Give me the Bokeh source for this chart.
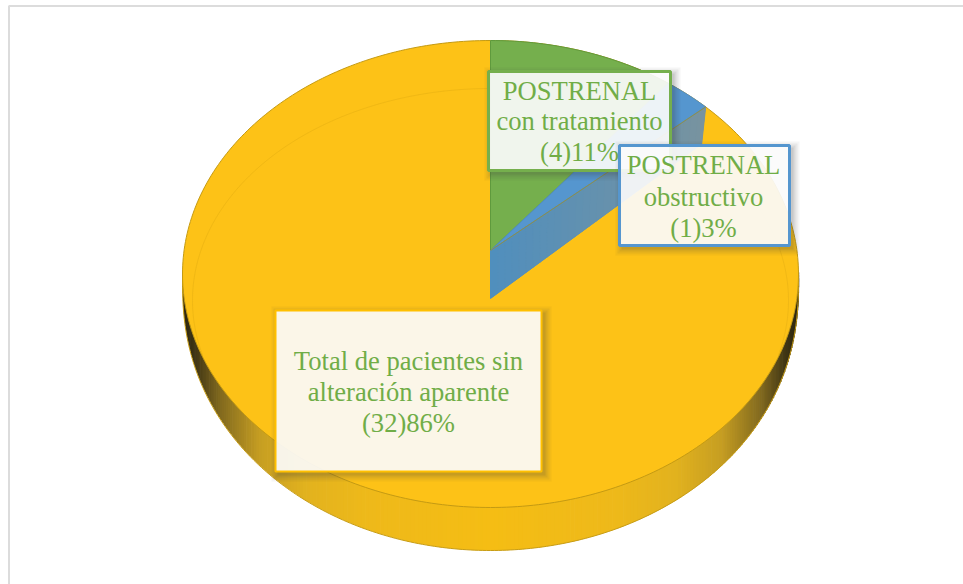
import numpy as np
from bokeh.embed import file_html
from bokeh.core.properties import value
from bokeh.plotting import figure
from bokeh.resources import INLINE

# Patient counts per group, in clockwise drawing order from twelve o'clock
categories = ["POSTRENAL\ncon tratamiento", "POSTRENAL\nobstructivo",
              "Total de pacientes sin\nalteración aparente"]
counts = [4, 1, 32]
percents = [11, 3, 86]

GREEN, BLUE, YELLOW = "#75af4d", "#5596cf", "#fdc217"
TEXT = "#70ad47"
FONT = value("Liberation Serif")

# Disc geometry in screen pixels (y grows downward)
CX, CY, RX, RY = 490.0, 273.5, 308.0, 233.5
DEPTH = 43.0
APEX_Y = 250.0
APEX_RX, APEX_RY = 277.0, 210.0
LIFT = 48.0

p = figure(width=963, height=584, x_range=(0, 963), y_range=(584, 0),
           output_backend="svg", toolbar_location=None, min_border=0)
p.axis.visible = False
p.grid.visible = False
p.outline_line_color = None
p.background_fill_color = "white"
p.border_fill_color = "white"

# Card frame, running off the top-right of the page
p.line([8.5, 8.5, 963], [584, 5.5, 5.5], line_color="#dcdcdc", line_width=2)


def wall_color(t):
    stops_t = [0.0, 0.4, 0.6, 0.75, 0.88, 0.96, 1.0]
    stops = np.array([[245, 189, 20], [238, 185, 26], [226, 178, 30], [198, 158, 34],
                      [128, 104, 30], [62, 52, 20], [44, 38, 16]], float)
    rgb = [np.interp(t, stops_t, stops[:, i]) for i in range(3)]
    return "#%02x%02x%02x" % tuple(int(round(c)) for c in rgb)


def rim_y(x):
    t = np.clip(np.abs(x - CX) / RX, 0, 1)
    s = np.sqrt(1 - t ** 2)
    return CY + RY * s, CY + RY * s + DEPTH * s ** 0.35


# Side wall of the disc, shaded toward the left and right ends
edges = CX + RX * np.sin(np.linspace(-np.pi / 2, np.pi / 2, 241))
xs, ys, cols = [], [], []
for a, b in zip(edges[:-1], edges[1:]):
    top_a, low_a = rim_y(a)
    top_b, low_b = rim_y(b)
    xs.append([a, b + 0.7, b + 0.7, a])
    ys.append([top_a - 2, top_b - 2, low_b, low_a])
    cols.append(wall_color(abs((a + b) / 2 - CX) / RX))
p.patches(xs, ys, fill_color=cols, line_color=None)
p.line(edges, rim_y(edges)[1], line_color="#c79c14", line_width=1)

# Top face
th = np.linspace(0, 2 * np.pi, 361)
p.patch(CX + RX * np.cos(th), CY + RY * np.sin(th), fill_color=YELLOW,
        line_color="#c49a13", line_width=1)

# Faint bevel ring just inside the rim
th_in = np.radians(np.linspace(-15, 195, 211)) + np.pi
p.line(CX + 298 * np.cos(th_in), 300 + 212 * np.sin(th_in),
       line_color="#d9a512", line_alpha=0.35, line_width=1)


def rim_point(theta):
    """Where the ray from the slice apex at a clockwise angle meets the rim."""
    dx, dy = APEX_RX * np.sin(theta), -APEX_RY * np.cos(theta)
    oy = (APEX_Y - CY) / RY
    a = (dx / RX) ** 2 + (dy / RY) ** 2
    b = 2 * oy * dy / RY
    c = oy ** 2 - 1
    k = (-b + np.sqrt(b * b - 4 * a * c)) / (2 * a)
    return CX + k * dx, APEX_Y + k * dy


share = np.cumsum([0] + counts) / sum(counts) * 2 * np.pi


def wedge(i, color, edge):
    angles = np.linspace(share[i], share[i + 1], 40)
    pts = [rim_point(a) for a in angles]
    p.patch([CX] + [q[0] for q in pts], [APEX_Y] + [q[1] for q in pts],
            fill_color=color, line_color=edge, line_width=1)


wedge(0, GREEN, "#5f9a3d")
wedge(1, BLUE, "#4f8cc4")

# Exposed inner wall below the blue slice: a base shape with a colour drift on top
end_x, end_y = rim_point(share[2])
p.patch([CX, end_x, end_x - 4, CX], [APEX_Y, end_y, end_y + LIFT - 11, APEX_Y + LIFT],
        fill_color="#5d90b4", line_color=None)
fx = np.linspace(0, 1, 31)
wall_xs, wall_ys, wall_cols = [], [], []
for f0, f1 in zip(fx[:-1], fx[1:]):
    x0, x1 = CX + f0 * (end_x - CX), CX + f1 * (end_x - CX)
    y0, y1 = APEX_Y + f0 * (end_y - APEX_Y), APEX_Y + f1 * (end_y - APEX_Y)
    wall_xs.append([x0, x1, x1 - 4 * f1, x0 - 4 * f0])
    wall_ys.append([y0, y1, y1 + LIFT - 11 * f1, y0 + LIFT - 11 * f0])
    mix = (f0 + f1) / 2
    wall_cols.append("#%02x%02x%02x" % (int(80 + 40 * mix), int(143 + 5 * mix), int(190 - 30 * mix)))
p.patches(wall_xs, wall_ys, fill_color=wall_cols, line_color=wall_cols, line_width=1)
p.line([CX, end_x], [APEX_Y, end_y], line_color="#8c8f4c", line_width=1)


def label_box(left, right, top, bottom, edge, width):
    # Soft drop shadow as stacked rings, so it stays off the translucent panel
    for grow, alpha in [(7, 0.05), (5, 0.07), (3, 0.09), (1, 0.11)]:
        l, r, t, b = left + 3 - grow, right + 3 + grow, top + 3 - grow, bottom + 3 + grow
        p.multi_polygons(
            [[[[l, r, r, l], [left, right, right, left]]]],
            [[[[t, t, b, b], [top, top, bottom, bottom]]]],
            fill_color="#404040", fill_alpha=alpha, line_color=None)
    p.quad(left=left, right=right, top=top, bottom=bottom,
           fill_color="#fbfbfb", fill_alpha=0.92, line_color=edge, line_width=width)


def label_text(cx, line_ys, i):
    lines = categories[i].split("\n") + [f"({counts[i]}){percents[i]}%"]
    p.text([cx] * 3, line_ys, text=lines, text_font=FONT, text_font_size="26.6px",
           text_color=TEXT, text_align="center", text_baseline="middle")


label_box(275, 541, 310, 471, "#ffc000", 2)
label_text(408, [360, 391, 422], 2)
label_box(488, 670, 71, 170, GREEN, 3)
label_text(579, [90, 120, 151], 0)
label_box(619, 789, 145, 245, BLUE, 3)
label_text(703, [164, 196, 227], 1)

open("out.html", "w").write(file_html(p, INLINE))
